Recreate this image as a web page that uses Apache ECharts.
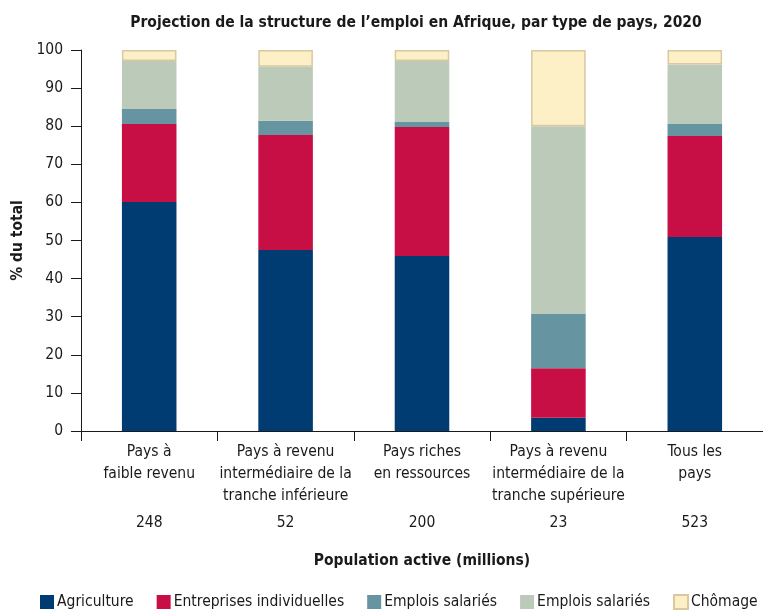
<!DOCTYPE html>
<html>
<head>
<meta charset="utf-8">
<script src="https://cdn.jsdelivr.net/npm/echarts@6/dist/echarts.min.js"></script>
<style>
  html, body { margin: 0; padding: 0; background: #fff; }
  #chart { width: 763px; height: 611px; }
</style>
</head>
<body>
<div id="chart"></div>
<script>
// categories and data (% of total employment)
var categories = ['Pays à\nfaible revenu', 'Pays à revenu\nintermédiaire de la\ntranche inférieure', 'Pays riches\nen ressources', 'Pays à revenu\nintermédiaire de la\ntranche supérieure', 'Tous les\npays'];
var populationActive = ['248', '52', '200', '23', '523'];
var agriculture = [60.1, 47.5, 45.9, 3.5, 50.9];
var entreprises = [20.5, 30.2, 33.9, 13.0, 26.5];
var emploisSal1 = [3.9, 3.7, 1.3, 14.2, 3.2];
var emploisSal2 = [12.6, 14.2, 16.0, 49.3, 15.6];
var chomage = [2.9, 4.4, 2.9, 20.0, 3.8];
var yTicks = [0, 10, 20, 30, 40, 50, 60, 70, 80, 90, 100];

var FONT = '"DejaVu Sans Condensed", "Liberation Sans", sans-serif';
var FS = 15.5;
var legendNames = {
  'Agriculture': 'Agriculture',
  'Entreprises individuelles': 'Entreprises individuelles',
  'Emplois salariés A': 'Emplois salariés',
  'Emplois salariés B': 'Emplois salariés',
  'Chômage': 'Chômage'
};

function mkSeries(name, data, color, border) {
  return {
    name: name,
    type: 'bar',
    stack: 'total',
    barWidth: '40%',
    xAxisIndex: 0,
    data: data,
    itemStyle: {
      color: color,
      borderColor: border || color,
      borderWidth: border ? 1.5 : 0
    }
  };
}

var option = {
  animation: false,
  textStyle: { fontFamily: FONT },
  title: {
    text: 'Projection de la structure de l’emploi en Afrique, par type de pays, 2020',
    left: 411,
    textAlign: 'center',
    top: 10,
    textStyle: { fontFamily: FONT, fontSize: 15.5, fontWeight: 'bold', color: '#1a1a1a' }
  },
  legend: {
    left: 40,
    top: 594,
    width: 723,
    padding: 0,
    itemWidth: 14,
    itemHeight: 14,
    itemGap: 23,
    icon: 'rect',
    formatter: function (n) { return legendNames[n]; },
    textStyle: { fontFamily: FONT, fontSize: FS, color: '#1a1a1a', padding: [0, 0, 0, -2] }
  },
  grid: { left: 81, right: 0, top: 50, bottom: 180, outerBoundsMode: 'none' },
  xAxis: [{
    type: 'category',
    data: categories,
    axisLine: { lineStyle: { color: '#1a1a1a', width: 1 } },
    axisTick: { show: true, length: 10, lineStyle: { color: '#1a1a1a' } },
    axisLabel: { color: '#1a1a1a', fontSize: FS, lineHeight: 22, margin: 10, interval: 0 }
  }, {
    type: 'category',
    data: populationActive,
    position: 'bottom',
    offset: 74,
    axisLine: { show: false },
    axisTick: { show: false },
    axisLabel: { color: '#1a1a1a', fontSize: FS, margin: 10 },
    name: 'Population active (millions)',
    nameLocation: 'middle',
    nameGap: 48,
    nameTextStyle: { color: '#1a1a1a', fontSize: FS, fontWeight: 'bold' }
  }],
  yAxis: {
    type: 'value',
    min: yTicks[0],
    max: yTicks[yTicks.length - 1],
    interval: 10,
    name: '% du total',
    nameLocation: 'middle',
    nameGap: 55,
    nameTextStyle: { color: '#1a1a1a', fontSize: FS, fontWeight: 'bold' },
    axisLine: { show: true, lineStyle: { color: '#1a1a1a', width: 1 } },
    axisTick: { show: true, length: 10, lineStyle: { color: '#1a1a1a' } },
    axisLabel: { color: '#1a1a1a', fontSize: FS, margin: 18 },
    splitLine: { show: false }
  },
  series: [
    mkSeries('Agriculture', agriculture, '#003c71'),
    mkSeries('Entreprises individuelles', entreprises, '#c80f45'),
    mkSeries('Emplois salariés A', emploisSal1, '#6694a0'),
    mkSeries('Emplois salariés B', emploisSal2, '#bccbb9'),
    mkSeries('Chômage', chomage, '#fdefc6', '#d9c8a0')
  ]
};

var myChart = echarts.init(document.getElementById('chart'));
myChart.setOption(option);
</script>
</body>
</html>
